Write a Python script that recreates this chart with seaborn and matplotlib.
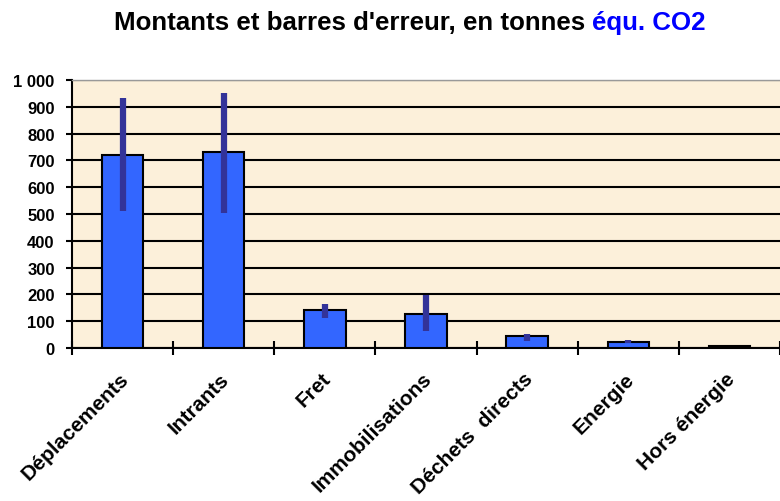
import matplotlib
matplotlib.use("Agg")
import matplotlib.pyplot as plt
import matplotlib.transforms as mtransforms
import numpy as np
import pandas as pd
import seaborn as sns

categories = ["Déplacements", "Intrants", "Fret", "Immobilisations",
              "Déchets  directs", "Energie", "Hors énergie"]
amounts = [721, 730, 141, 128, 44, 21, 8]
err_low = [512, 505, 113, 65, 27, 17, 8]
err_high = [934, 951, 164, 198, 53, 31, 8]
y_ticks = [0, 100, 200, 300, 400, 500, 600, 700, 800, 900, 1000]
y_tick_labels = ["0", "100", "200", "300", "400", "500", "600", "700",
                 "800", "900", "1 000"]

plt.rcParams['font.family'] = ['Liberation Sans', 'DejaVu Sans']

df = pd.DataFrame({"category": categories, "amount": amounts})

W, H = 780, 502
fig = plt.figure(figsize=(W / 100, H / 100), dpi=100)
ax = fig.add_axes([72 / W, 1 - 349 / H, (W - 72) / W, 268 / H])
ax.set_facecolor("#fcf0da")

sns.barplot(data=df, x="category", y="amount", color="#3366ff",
            saturation=1, edgecolor="black", linewidth=1.5, width=0.41,
            zorder=3, ax=ax)

pos = np.arange(len(categories))
ax.vlines(pos, err_low, err_high, colors="#333399", linewidth=4.5, zorder=4)

ax.set_ylim(0, 1000)
ax.set_xlim(-0.5, -0.5 + (W - 72) / 102)
ax.set_yticks(y_ticks)
ax.set_yticklabels(y_tick_labels, fontsize=12, fontweight="bold")
ax.yaxis.grid(True, color="black", linewidth=1.5)
ax.set_axisbelow(True)
ax.tick_params(axis="y", direction="out", length=4.5, width=1.5, pad=8)

# category boundaries carry the tick marks, labels sit at bar centres
ax.set_xticks(pos)
ax.set_xticks(np.arange(-0.5, len(categories), 1.0), minor=True)
ax.tick_params(axis="x", which="major", length=0, pad=15)
ax.tick_params(axis="x", which="minor", direction="inout", length=10, width=1.5)
ax.set_xticklabels(categories, rotation=45, ha="right", rotation_mode="anchor",
                   fontsize=15.1, fontweight="bold")
shift = mtransforms.ScaledTranslation(-4 / 100, 0, fig.dpi_scale_trans)
for lab in ax.get_xticklabels():
    lab.set_transform(lab.get_transform() + shift)

ax.set_xlabel("")
ax.set_ylabel("")
ax.spines["right"].set_visible(False)
ax.spines["top"].set_color("#999999")
ax.spines["top"].set_linewidth(1)
ax.spines["left"].set_linewidth(1.5)
ax.spines["bottom"].set_linewidth(1.5)

# title in two colours
fig.canvas.draw()
r = fig.canvas.get_renderer()
part1 = "Montants et barres d'erreur, en tonnes "
part2 = "équ. CO2"
ty = 1 - 23 / H
t1 = fig.text(0, ty, part1, fontsize=18.6, fontweight="bold", va="center")
t2 = fig.text(0, ty, part2, fontsize=18.6, fontweight="bold", va="center",
              color="#0000ff")
w1 = t1.get_window_extent(r).width
w2 = t2.get_window_extent(r).width
x0 = 410 - (w1 + w2) / 2
t1.set_x(x0 / W)
t2.set_x((x0 + w1) / W)

fig.savefig("out.png", dpi=100)
